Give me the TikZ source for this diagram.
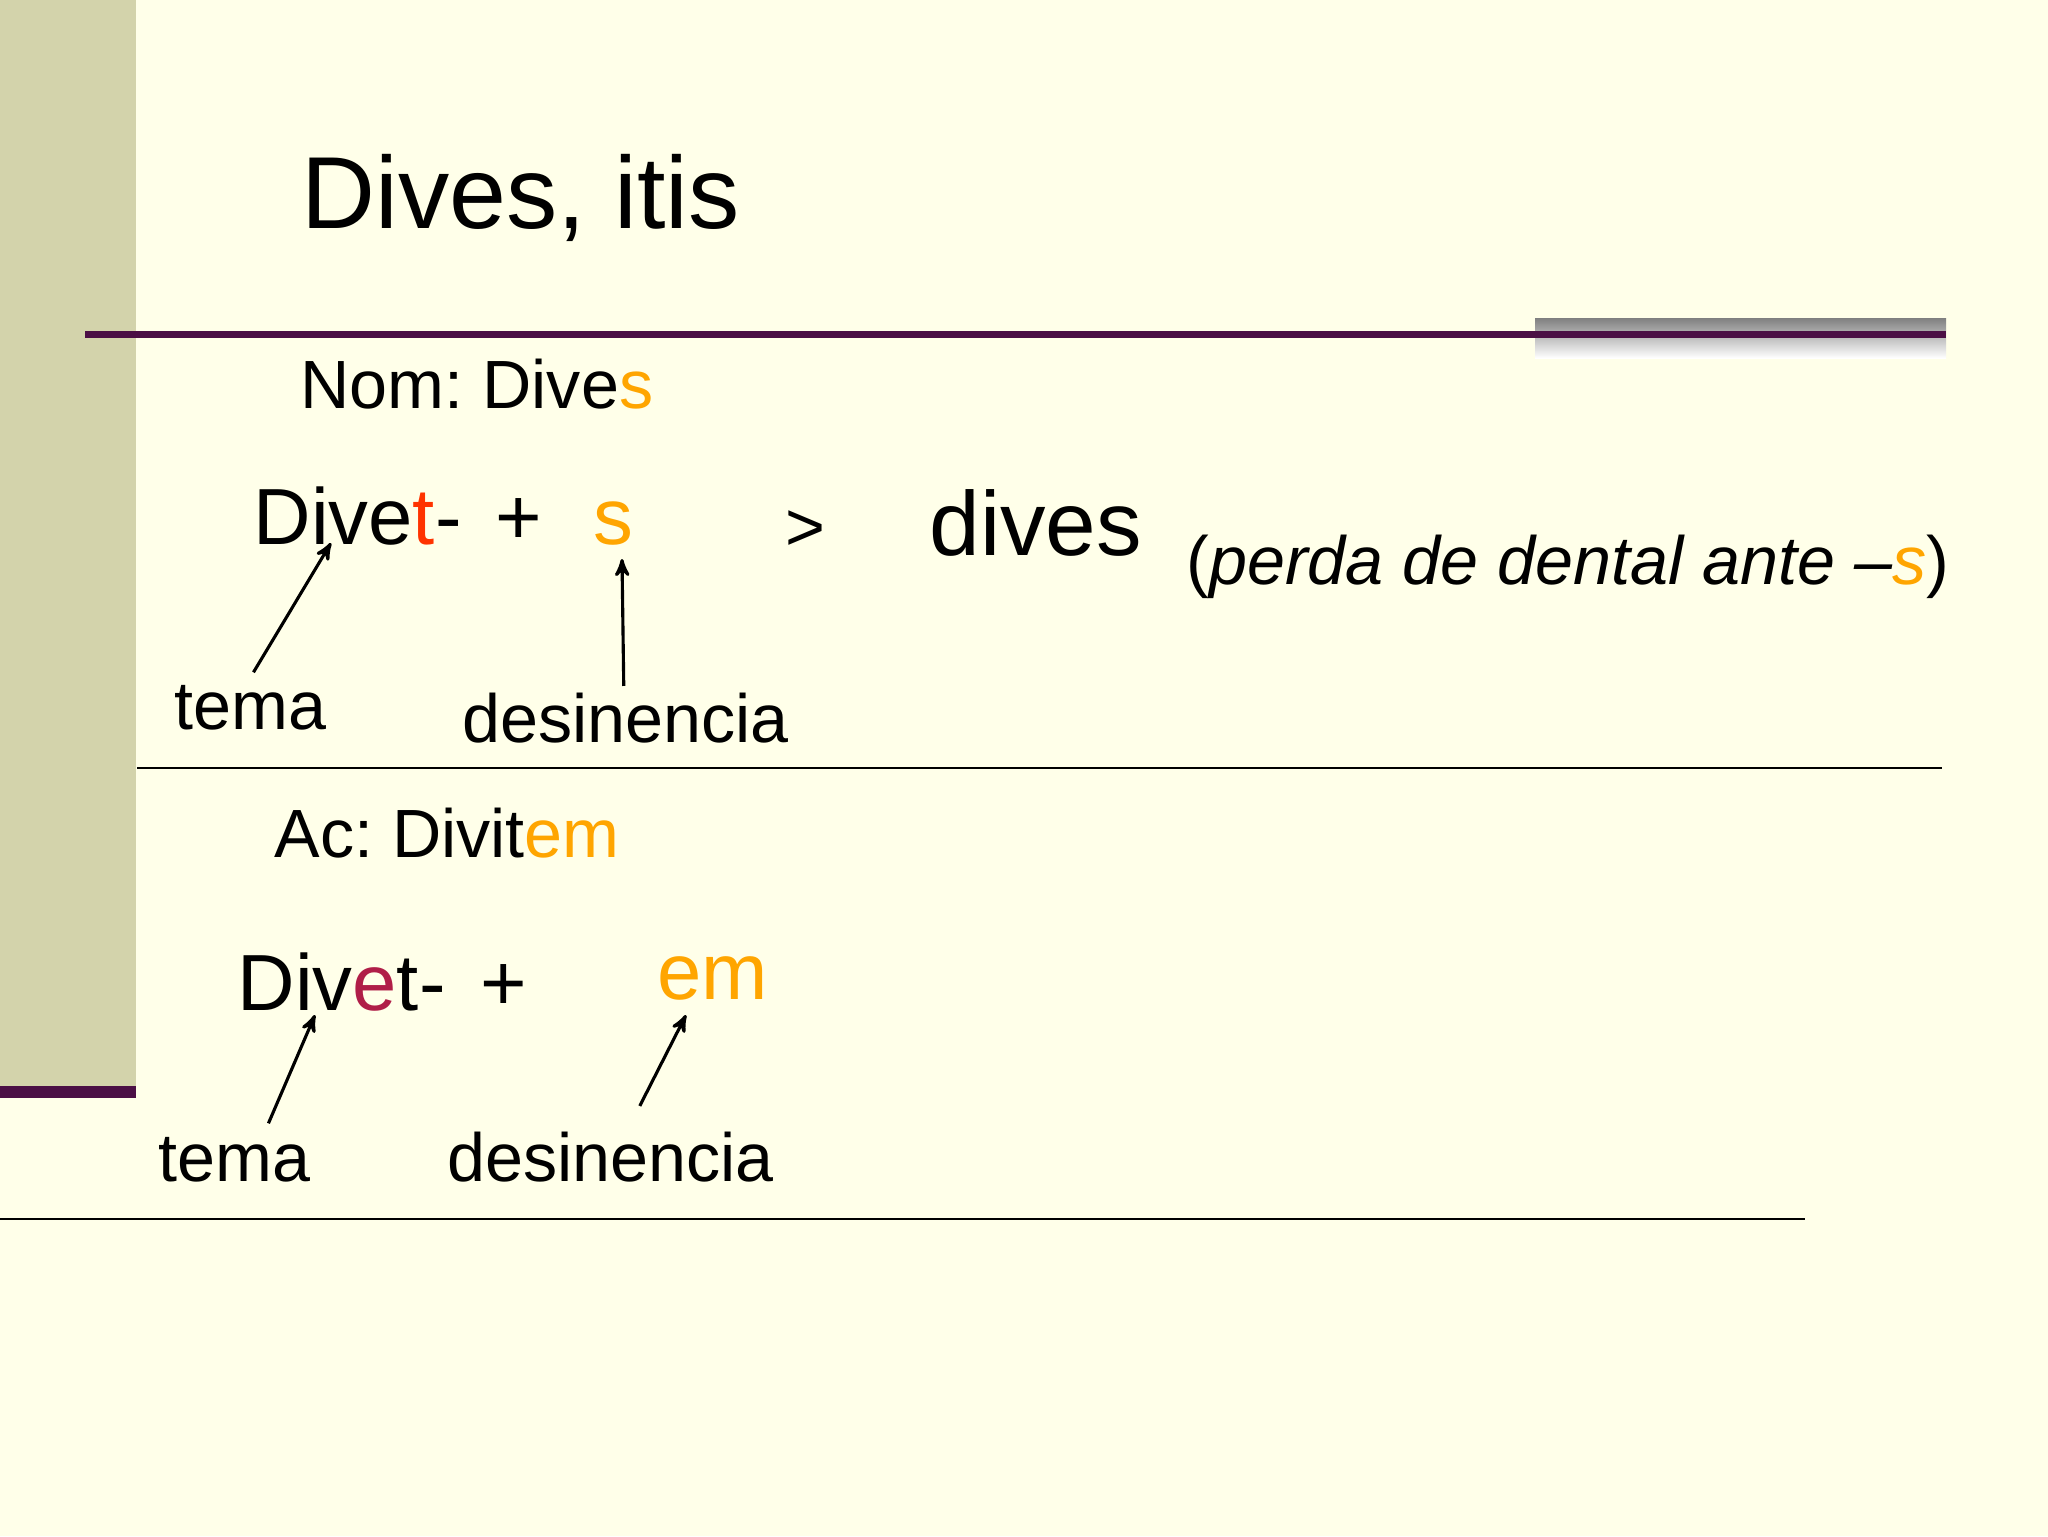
\documentclass[tikz,border=0pt]{standalone}
\usepackage{fontspec}
\setmainfont{Liberation Sans}
\usepackage{tikz}
\usetikzlibrary{arrows,calc}
\frenchspacing

\definecolor{slidebg}{HTML}{FFFFE9}
\definecolor{sidebar}{HTML}{D3D3AB}
\definecolor{plum}{HTML}{4B0F45}
\definecolor{shade}{HTML}{BFBFBF}
\definecolor{endcol}{HTML}{FFA500}
\definecolor{stemred}{HTML}{FF3300}
\definecolor{vowelred}{HTML}{B01E48}

\newcommand{\fs}[1]{\fontsize{#1}{#1}\selectfont}

\begin{document}
\begin{tikzpicture}[x=0.3516pt,y=-0.3516pt,>=stealth',
                    txt/.style={anchor=base west,inner sep=0pt,font=\fs{24}},
                    big/.style={txt,font=\fs{28}},
                    conn/.style={->,line width=1.1pt}]

  % slide background
  \useasboundingbox (0,0) rectangle (2048,1536);
  \fill[slidebg] (0,0) rectangle (2048,1536);
  \fill[sidebar] (0,0) rectangle (136,1086);
  \fill[plum]    (0,1086) rectangle (136,1098);
  \fill[shade]   (1535,318) rectangle (1946,358);
  \fill[plum]    (85,331) rectangle (1946,338);

  \node[txt,font=\fs{36}] (title) at (301,228) {Dives, itis};

  % nominative
  \node[txt]             (nom)    at (300,408)  {Nom: Dive\textcolor{endcol}{s}};
  \node[big]             (divA)   at (253,544)  {Dive\textcolor{stemred}{t}-};
  \node[big,anchor=base] (plusA)  at (519,544)  {+};
  \node[big,anchor=base,text=endcol] (sA) at (613,544) {s};
  \node[txt,anchor=base] (gt)     at (805,550)  {>};
  \node[txt,font=\fs{32}] (dives) at (929,555)  {dives};
  \node[txt]             (perda)  at (1186,584) {(\textit{perda de dental ante –\textcolor{endcol}{s}})};
  \node[txt]             (temaA)  at (174,729)  {tema};
  \node[txt]             (desinA) at (462,742)  {desinencia};

  \coordinate (tipA) at ($(divA.base west)+(78,-1)$);
  \coordinate (tipB) at ($(sA.base)+(9,15)$);
  \draw[conn] ($(temaA.north)+(3,-12)$) -- (tipA);
  \draw[conn] ($(desinA.north)+(-2,-6)$) -- (tipB);

  \draw[line width=0.7pt] (137,768) -- (1942,768);

  % accusative
  \node[txt]             (ac)     at (274,857)  {Ac: Divit\textcolor{endcol}{em}};
  \node[big]             (divB)   at (237,1010) {Div\textcolor{vowelred}{e}t-};
  \node[big,anchor=base] (plusB)  at (504,1010) {+};
  \node[big,text=endcol] (emB)    at (657,999)  {em};
  \node[txt]             (temaB)  at (158,1181) {tema};
  \node[txt]             (desinB) at (447,1181) {desinencia};

  \coordinate (tipC) at ($(divB.base west)+(78,5)$);
  \coordinate (tipD) at ($(emB.base west)+(29,16)$);
  \draw[conn] ($(temaB.north)+(34,-13)$) -- (tipC);
  \draw[conn] ($(desinB.north)+(29,-25)$) -- (tipD);

  \draw[line width=0.7pt] (0,1219) -- (1805,1219);
\end{tikzpicture}
\end{document}
